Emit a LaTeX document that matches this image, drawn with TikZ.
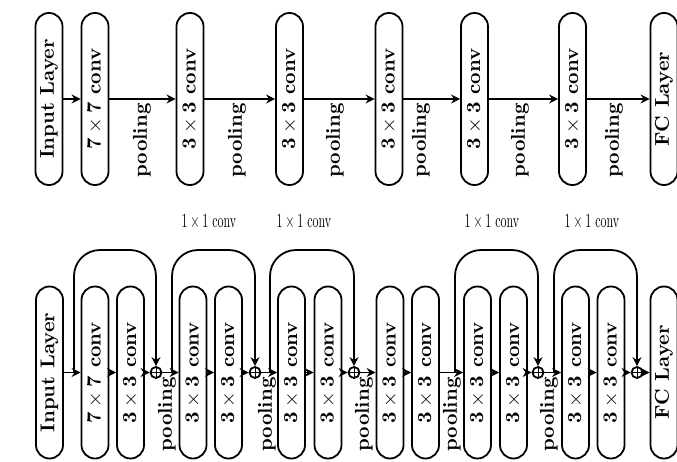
\documentclass[tikz,border=0pt]{standalone}
\usetikzlibrary{arrows.meta}
\begin{document}
\begin{tikzpicture}[x=0.5pt,y=-0.5pt,
  lyr/.style={draw, line width=0.9pt, rounded corners=6.7pt, rotate=90,
    minimum width=86pt, minimum height=13.5pt, inner sep=0pt, font=\bfseries},
  pool/.style={rotate=90, anchor=east, inner sep=0pt, font=\bfseries},
  add/.style={draw, circle, line width=0.9pt, minimum size=5.5pt, inner sep=0pt,
    path picture={\draw[line width=0.4pt] (path picture bounding box.north) -- (path picture bounding box.south)
      (path picture bounding box.west) -- (path picture bounding box.east);}},
  arr/.style={line width=0.9pt, -{Stealth[length=4.5pt,width=4.5pt]}},
  skip/.style={line width=0.9pt, rounded corners=13pt, -{Stealth[length=4.5pt,width=4.5pt]}},
  onebyone/.style={font=\normalsize, xscale=0.6}
]
\useasboundingbox (0,0) rectangle (677,462);
% ---------- top row ----------
\node[lyr] (tin) at (49,99) {Input Layer};
\node[lyr] (t1) at (95,99) {$\mathbf{7\times7}$ conv};
\node[lyr] (t2) at (190,99) {$\mathbf{3\times3}$ conv};
\node[lyr] (t3) at (289.5,99) {$\mathbf{3\times3}$ conv};
\node[lyr] (t4) at (389,99) {$\mathbf{3\times3}$ conv};
\node[lyr] (t5) at (474.5,99) {$\mathbf{3\times3}$ conv};
\node[lyr] (t6) at (572.5,99) {$\mathbf{3\times3}$ conv};
\node[lyr] (tfc) at (664,99) {FC Layer};
\draw[arr] (tin) -- (t1);
\draw[arr] (t1) -- (t2);
\draw[arr] (t2) -- (t3);
\draw[arr] (t3) -- (t4);
\draw[arr] (t4) -- (t5);
\draw[arr] (t5) -- (t6);
\draw[arr] (t6) -- (tfc);
\node[pool] (tp1) at (142,103) {pooling};
\node[pool] (tp2) at (237,103) {pooling};
\node[pool] (tp3) at (335,103) {pooling};
\node[pool] (tp4) at (421,103) {pooling};
\node[pool] (tp5) at (520,103) {pooling};
\node[pool] (tp6) at (614,103) {pooling};
% ---------- bottom row ----------
\node[lyr] (bin) at (49.5,372.5) {Input Layer};
\node[lyr] (b1) at (95,372.5) {$\mathbf{7\times7}$ conv};
\node[lyr] (b2) at (130.5,372.5) {$\mathbf{3\times3}$ conv};
\node[add] (p1) at (156,372.5) {};
\node[lyr] (b3) at (193,372.5) {$\mathbf{3\times3}$ conv};
\node[lyr] (b4) at (228.5,372.5) {$\mathbf{3\times3}$ conv};
\node[add] (p2) at (255,372.5) {};
\node[lyr] (b5) at (291.5,372.5) {$\mathbf{3\times3}$ conv};
\node[lyr] (b6) at (328,372.5) {$\mathbf{3\times3}$ conv};
\node[add] (p3) at (354,372.5) {};
\node[lyr] (b7) at (390,372.5) {$\mathbf{3\times3}$ conv};
\node[lyr] (b8) at (425.5,372.5) {$\mathbf{3\times3}$ conv};
\node[lyr] (b9) at (477.5,372.5) {$\mathbf{3\times3}$ conv};
\node[lyr] (b10) at (513.5,372.5) {$\mathbf{3\times3}$ conv};
\node[add] (p4) at (538,372.5) {};
\node[lyr] (b11) at (575.5,372.5) {$\mathbf{3\times3}$ conv};
\node[lyr] (b12) at (611,372.5) {$\mathbf{3\times3}$ conv};
\node[add] (p5) at (637,372.5) {};
\node[lyr] (bfc) at (664,372.5) {FC Layer};
\draw[arr] (bin) -- (b1);
\draw[arr] (b1) -- (b2);
\draw[arr] (b2) -- (p1);
\draw[arr] (p1) -- (b3);
\draw[arr] (b3) -- (b4);
\draw[arr] (b4) -- (p2);
\draw[arr] (p2) -- (b5);
\draw[arr] (b5) -- (b6);
\draw[arr] (b6) -- (p3);
\draw[arr] (p3) -- (b7);
\draw[arr] (b7) -- (b8);
\draw[arr] (b8) -- (b9);
\draw[arr] (b9) -- (b10);
\draw[arr] (b10) -- (p4);
\draw[arr] (p4) -- (b11);
\draw[arr] (b11) -- (b12);
\draw[arr] (b12) -- (p5);
\draw[arr] (p5) -- (bfc);
\node[pool] (bp1) at (167,377) {pooling};
\node[pool] (bp2) at (267,377) {pooling};
\node[pool] (bp3) at (364,377) {pooling};
\node[pool] (bp4) at (452,377) {pooling};
\node[pool] (bp5) at (549,377) {pooling};
% skip connections
\coordinate (s1) at (74,372.5);
\coordinate (s2) at (172,372.5);
\coordinate (s3) at (270,372.5);
\coordinate (s4) at (455,372.5);
\coordinate (s5) at (554,372.5);
\draw[skip] (s1) -- ++(0,-122.5) -| (p1);
\draw[skip] (s2) -- ++(0,-122.5) -| (p2);
\draw[skip] (s3) -- ++(0,-122.5) -| (p3);
\draw[skip] (s4) -- ++(0,-122.5) -| (p4);
\draw[skip] (s5) -- ++(0,-122.5) -| (p5);
\node[onebyone] (l2) at (209,222) {$1\times1$ conv};
\node[onebyone] (l3) at (304,222) {$1\times1$ conv};
\node[onebyone] (l4) at (492,222) {$1\times1$ conv};
\node[onebyone] (l5) at (592,222) {$1\times1$ conv};
\end{tikzpicture}
\end{document}
